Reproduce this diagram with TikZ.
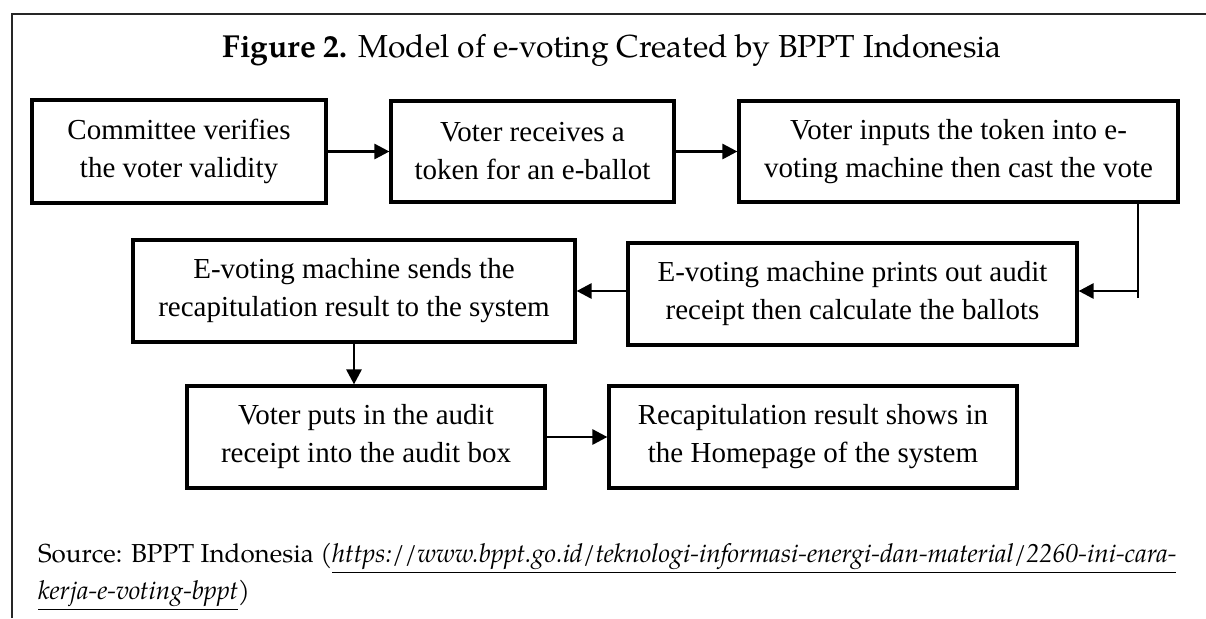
\documentclass[tikz,border=0pt]{standalone}
\usepackage{fontspec}
\setmainfont{Liberation Serif}
\newfontfamily\palfont{TeX Gyre Pagella}
\usetikzlibrary{arrows.meta}
\tikzset{
  stepbox/.style={draw, line width=1.6pt, align=center, inner sep=0pt,
    font=\fontsize{14.5}{19}\selectfont},
  flow/.style={line width=1.4pt, -{Triangle[length=7.5pt,width=7.5pt]}},
  captext/.style={font=\palfont\fontsize{15.9}{19}\selectfont},
  srctext/.style={font=\palfont\fontsize{13}{18}\selectfont}
}
\newcommand{\weblink}[1]{\underline{\itshape #1}}
\begin{document}
\begin{tikzpicture}[x=0.5pt,y=-0.5pt]
\useasboundingbox (0,0) rectangle (1206,618);
% frame
\draw[line width=0.8pt, black!85] (12,618) -- (12,14) -- (1206,14);
% title
\node[captext, anchor=base] (title) at (612,57) {\textbf{Figure 2.} Model of e-voting Created by BPPT Indonesia};
% first row
\node[stepbox, minimum width=147pt, minimum height=51.5pt] (verify) at (179,151.5) {Committee verifies\\the voter validity};
\node[stepbox, minimum width=141.5pt, minimum height=50.5pt] (token) at (532.5,151.5) {Voter receives a\\token for an e-ballot};
\node[stepbox, minimum width=219.5pt, minimum height=50.5pt] (inputs) at (958.5,151.5) {Voter inputs the token into e-\\voting machine then cast the vote};
% second row
\node[stepbox, minimum width=224.5pt, minimum height=51pt] (prints) at (852.5,294) {E-voting machine prints out audit\\receipt then calculate the ballots};
\node[stepbox, minimum width=221pt, minimum height=51pt] (sends) at (354,291) {E-voting machine sends the\\recapitulation result to the system};
% third row
\node[stepbox, minimum width=179pt, minimum height=51pt] (puts) at (366,437) {Voter puts in the audit\\receipt into the audit box};
\node[stepbox, minimum width=204pt, minimum height=51pt] (shows) at (813,437) {Recapitulation result shows in\\the Homepage of the system};
% connectors
\coordinate (bend) at (1138,291);
\draw[flow] (verify.east) -- (token.west);
\draw[flow] (token.east) -- (inputs.west);
\draw[line width=1.4pt] (inputs.south -| bend) -- ([yshift=-3.5pt]bend);
\draw[flow] (bend) -- (bend -| prints.east);
\draw[flow] (sends.east -| prints.west) -- (sends.east);
\draw[flow] (sends.south) -- (sends.south |- puts.north);
\draw[flow] (puts.east) -- (shows.west);
% source
\node[srctext, anchor=base west] (src) at (31,562) {Source: BPPT Indonesia (\weblink{https://www.bppt.go.id/teknologi-informasi-energi-dan-material/2260-ini-cara-}};
\node[srctext, anchor=base west] (srcb) at (31,599) {\weblink{kerja-e-voting-bppt})};
\end{tikzpicture}
\end{document}
